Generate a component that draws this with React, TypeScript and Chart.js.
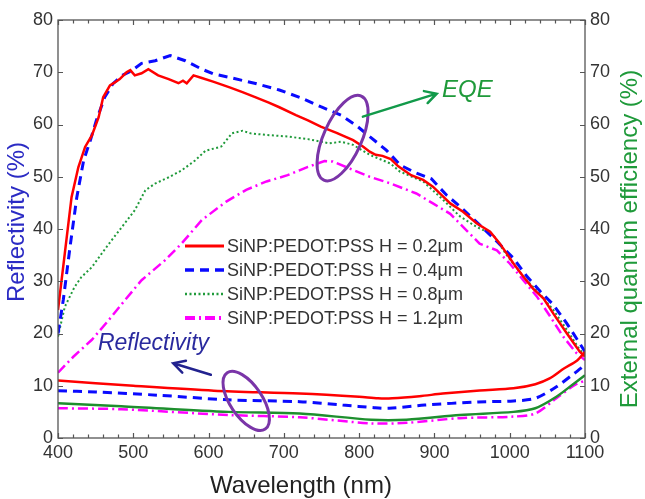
import React, { useEffect, useRef } from "react";
import { Chart, registerables } from "chart.js";
Chart.register(...registerables);

const FONT = "'Liberation Sans', Arial, Helvetica, sans-serif";

// ---- axes ----
const wavelengthTicks = [400, 500, 600, 700, 800, 900, 1000, 1100];
const percentTicks = [0, 10, 20, 30, 40, 50, 60, 70, 80];

const seriesLabels = [
  "SiNP:PEDOT:PSS H = 0.2\u03bcm",
  "SiNP:PEDOT:PSS H = 0.4\u03bcm",
  "SiNP:PEDOT:PSS H = 0.8\u03bcm",
  "SiNP:PEDOT:PSS H = 1.2\u03bcm",
];

// ---- EQE (right axis) ----
const eqeWl02 = [400, 409, 418, 427, 436, 445, 454, 460, 469, 476, 482, 491, 496, 502, 511, 520, 533, 547, 560, 566, 571, 580, 591, 606, 628, 645, 661, 680, 694, 716, 732, 749, 770, 792, 805, 814, 822, 831, 842, 852, 869, 885, 898, 921, 938, 956, 974, 987, 1005, 1018, 1031, 1045, 1058, 1076, 1093, 1100];
const eqe02 = [24.5, 35.3, 46.1, 51.8, 55.7, 57.9, 61.4, 65.2, 67.5, 68.1, 68.7, 70.0, 70.4, 69.4, 69.8, 70.6, 69.4, 68.7, 67.9, 68.4, 67.9, 69.4, 68.9, 68.2, 67.1, 66.2, 65.3, 64.2, 63.3, 61.8, 60.8, 59.6, 58.4, 57.0, 55.8, 54.8, 54.2, 54.0, 53.4, 52.0, 50.3, 49.4, 48.1, 44.9, 43.3, 41.1, 39.5, 37.2, 33.4, 30.9, 28.6, 26.7, 23.8, 20.0, 16.5, 15.6];

const eqeWl04 = [400, 407, 416, 425, 434, 443, 451, 462, 473, 485, 498, 511, 529, 549, 569, 591, 606, 628, 661, 694, 721, 749, 776, 798, 814, 836, 855, 876, 896, 916, 934, 960, 983, 1005, 1023, 1041, 1058, 1076, 1093, 1100];
const eqe04 = [20.0, 26.4, 36.6, 46.1, 53.1, 57.0, 60.8, 65.2, 67.8, 69.4, 70.3, 71.7, 72.2, 73.2, 72.2, 70.6, 69.7, 69.0, 67.9, 66.6, 65.2, 63.4, 61.8, 59.6, 57.7, 55.1, 52.2, 50.7, 49.6, 46.5, 44.3, 40.8, 37.6, 34.4, 30.9, 28.0, 25.5, 21.9, 18.1, 16.5];

const eqeWl08 = [400, 409, 422, 431, 445, 458, 471, 485, 502, 516, 529, 547, 564, 582, 596, 610, 617, 631, 645, 656, 677, 705, 732, 760, 776, 792, 814, 842, 854, 885, 907, 934, 956, 978, 996, 1018, 1041, 1058, 1076, 1093, 1100];
const eqe08 = [19.4, 25.1, 28.9, 30.8, 32.7, 35.3, 37.8, 40.4, 43.6, 47.4, 48.7, 49.9, 51.2, 53.1, 55.0, 55.5, 55.8, 58.3, 58.8, 58.3, 58.0, 57.7, 57.2, 56.4, 56.7, 56.1, 54.2, 52.5, 51.0, 49.1, 46.2, 42.4, 40.4, 38.9, 35.0, 30.9, 27.4, 24.5, 20.7, 16.9, 15.9];

const eqeWl12 = [400, 420, 445, 467, 489, 511, 542, 564, 591, 623, 650, 677, 705, 732, 754, 765, 787, 814, 842, 876, 898, 921, 938, 960, 983, 1000, 1018, 1036, 1054, 1071, 1089, 1100];
const eqe12 = [12.5, 15.5, 18.8, 22.5, 26.4, 30.2, 34.0, 37.2, 41.7, 45.2, 47.5, 49.1, 50.3, 51.9, 53.0, 52.9, 51.6, 50.0, 48.7, 46.8, 44.9, 42.9, 40.4, 37.2, 35.9, 33.4, 30.2, 27.1, 23.2, 19.4, 16.2, 14.9];

// ---- Reflectivity (left axis) ----
const refWl02 = [400, 500, 607, 721, 800, 825, 844, 880, 911, 960, 1005, 1034, 1053, 1072, 1090, 1100];
const ref02 = [11.0, 10.0, 9.06, 8.5, 7.9, 7.6, 7.6, 8.0, 8.5, 9.1, 9.5, 10.3, 11.4, 13.3, 14.9, 16.5];

const refWl04 = [400, 450, 532, 626, 721, 778, 820, 840, 887, 958, 1005, 1034, 1062, 1086, 1100];
const ref04 = [9.05, 8.8, 8.2, 7.3, 6.95, 6.3, 5.8, 5.7, 6.3, 6.9, 7.1, 7.6, 9.8, 12.4, 14.0];

const refWl08 = [400, 484, 626, 721, 816, 863, 934, 1005, 1034, 1062, 1086, 1100];
const ref08 = [6.64, 6.1, 5.0, 4.7, 3.5, 3.5, 4.4, 5.0, 5.7, 7.9, 10.5, 12.0];

const refWl12 = [400, 484, 626, 721, 816, 863, 934, 1005, 1034, 1062, 1086, 1100];
const ref12 = [5.7, 5.5, 4.4, 3.96, 2.8, 2.9, 3.8, 4.1, 4.7, 7.6, 10.1, 11.0];

// ---- annotations (data coordinates) ----
const eqeEllipse = { x: 778, y: 57.4 };
const refEllipse = { x: 650, y: 7.1 };
const eqeArrow = { x0: 805, y0: 61.5, x1: 903, y1: 65.9 };
const refArrow = { x0: 603, y0: 12.1, x1: 553, y1: 14.3 };
const eqeNote = { x: 910, y: 65.3, text: "EQE" };
const refNote = { x: 453, y: 16.8, text: "Reflectivity" };

const pts = (xs: number[], ys: number[]) => xs.map((x, i) => ({ x, y: ys[i] }));

const styles = [
  { color: "#ff0000", width: 2.5, dash: [] as number[] },
  { color: "#0a0aff", width: 3, dash: [9, 6] },
  { color: "#1f9a3a", width: 2, dash: [2, 2.5] },
  { color: "#ff00ff", width: 2.5, dash: [10, 4, 2, 4] },
];

function arrow(ctx: CanvasRenderingContext2D, x0: number, y0: number, x1: number, y1: number, color: string) {
  const ang = Math.atan2(y1 - y0, x1 - x0);
  const hl = 13;
  ctx.strokeStyle = color;
  ctx.lineWidth = 2.5;
  ctx.setLineDash([]);
  ctx.lineCap = "round";
  ctx.beginPath();
  ctx.moveTo(x0, y0);
  ctx.lineTo(x1, y1);
  ctx.moveTo(x1 - hl * Math.cos(ang - 0.5), y1 - hl * Math.sin(ang - 0.5));
  ctx.lineTo(x1, y1);
  ctx.lineTo(x1 - hl * Math.cos(ang + 0.5), y1 - hl * Math.sin(ang + 0.5));
  ctx.stroke();
}

const decor = {
  id: "decor",
  afterDatasetsDraw(chart: any) {
    const { ctx, chartArea: a, scales } = chart;
    const xs = scales.x, yl = scales.y, yr = scales.y1;
    ctx.save();
    // frame
    ctx.strokeStyle = "#555";
    ctx.lineWidth = 1.3;
    ctx.setLineDash([]);
    ctx.strokeRect(a.left, a.top, a.right - a.left, a.bottom - a.top);
    // x ticks (inward, top & bottom)
    ctx.beginPath();
    for (let v = 400; v <= 1100; v += 20) {
      const px = Math.round(xs.getPixelForValue(v)) + 0.5;
      const len = v % 100 === 0 ? 5 : 3.5;
      ctx.moveTo(px, a.bottom);
      ctx.lineTo(px, a.bottom - len);
      ctx.moveTo(px, a.top);
      ctx.lineTo(px, a.top + len);
    }
    percentTicks.forEach((v) => {
      const py = Math.round(yl.getPixelForValue(v)) + 0.5;
      ctx.moveTo(a.left, py);
      ctx.lineTo(a.left + 5, py);
      ctx.moveTo(a.right, py);
      ctx.lineTo(a.right - 5, py);
    });
    ctx.lineWidth = 1.2;
    ctx.stroke();

    // axis titles
    ctx.textAlign = "center";
    ctx.textBaseline = "middle";
    ctx.font = `24px ${FONT}`;
    ctx.fillStyle = "#2b2bc4";
    ctx.save();
    ctx.translate(17, 222);
    ctx.rotate(-Math.PI / 2);
    ctx.fillText("Reflectivity (%)", 0, 0);
    ctx.restore();
    ctx.fillStyle = "#1f9a3a";
    ctx.save();
    ctx.translate(630, 239);
    ctx.rotate(-Math.PI / 2);
    ctx.fillText("External quantum efficiency (%)", 0, 0);
    ctx.restore();
    ctx.fillStyle = "#222";
    ctx.fillText("Wavelength (nm)", 301, 486);

    // ellipses
    ctx.strokeStyle = "#7a35a8";
    ctx.lineWidth = 3;
    ctx.beginPath();
    ctx.ellipse(xs.getPixelForValue(eqeEllipse.x), yr.getPixelForValue(eqeEllipse.y), 19, 46, (24 * Math.PI) / 180, 0, Math.PI * 2);
    ctx.stroke();
    ctx.beginPath();
    ctx.ellipse(xs.getPixelForValue(refEllipse.x), yl.getPixelForValue(refEllipse.y), 16, 34, (-34 * Math.PI) / 180, 0, Math.PI * 2);
    ctx.stroke();

    // arrows
    arrow(ctx, xs.getPixelForValue(eqeArrow.x0), yr.getPixelForValue(eqeArrow.y0), xs.getPixelForValue(eqeArrow.x1), yr.getPixelForValue(eqeArrow.y1), "#129a4a");
    arrow(ctx, xs.getPixelForValue(refArrow.x0), yl.getPixelForValue(refArrow.y0), xs.getPixelForValue(refArrow.x1), yl.getPixelForValue(refArrow.y1), "#22228f");

    // notes
    ctx.textAlign = "left";
    ctx.textBaseline = "alphabetic";
    ctx.font = `italic 24px ${FONT}`;
    ctx.fillStyle = "#1f9a3a";
    ctx.fillText(eqeNote.text, xs.getPixelForValue(eqeNote.x), yr.getPixelForValue(eqeNote.y));
    ctx.font = `italic 23px ${FONT}`;
    ctx.fillStyle = "#2a2a9e";
    ctx.fillText(refNote.text, xs.getPixelForValue(refNote.x), yl.getPixelForValue(refNote.y));

    // legend
    ctx.font = `18px ${FONT}`;
    ctx.textBaseline = "middle";
    seriesLabels.forEach((label, i) => {
      const y = 246 + i * 24;
      const s = styles[i];
      ctx.strokeStyle = s.color;
      ctx.lineWidth = i === 3 ? 4 : s.width + 0.5;
      ctx.lineCap = "butt";
      ctx.setLineDash(s.dash);
      ctx.beginPath();
      ctx.moveTo(185, y);
      ctx.lineTo(224, y);
      ctx.stroke();
      ctx.setLineDash([]);
      ctx.fillStyle = "#333";
      ctx.fillText(label, 227, y + 1);
    });
    ctx.restore();
  },
};

const fixY = (w: number) => (scale: any) => {
  scale.width = w;
  scale.paddingTop = 0;
  scale.paddingBottom = 0;
  scale.paddingLeft = 0;
  scale.paddingRight = 0;
};

export default function App() {
  const ref = useRef<HTMLCanvasElement>(null);
  useEffect(() => {
    if (!ref.current) return;
    const eqeSeries = [pts(eqeWl02, eqe02), pts(eqeWl04, eqe04), pts(eqeWl08, eqe08), pts(eqeWl12, eqe12)];
    const refSeries = [pts(refWl02, ref02), pts(refWl04, ref04), pts(refWl08, ref08), pts(refWl12, ref12)];
    const refColors = ["#ff0000", "#0a0aff", "#1e8f2e", "#ff00ff"];
    const datasets: any[] = [];
    refSeries.forEach((d, i) => {
      datasets.push({
        label: seriesLabels[i] + " R",
        data: d,
        yAxisID: "y",
        borderColor: refColors[i],
        borderWidth: i === 2 ? 2.5 : styles[i].width,
        borderDash: i === 2 ? [] : styles[i].dash,
        pointRadius: 0,
        tension: 0.3,
        fill: false,
      });
    });
    eqeSeries.forEach((d, i) => {
      datasets.push({
        label: seriesLabels[i],
        data: d,
        yAxisID: "y1",
        borderColor: styles[i].color,
        borderWidth: styles[i].width,
        borderDash: styles[i].dash,
        pointRadius: 0,
        tension: 0,
        fill: false,
      });
    });
    const tickFont = { family: FONT, size: 18 };
    const plain = (v: any) => String(v);
    const chart = new Chart(ref.current, {
      type: "line",
      data: { datasets },
      plugins: [decor],
      options: {
        animation: false,
        responsive: true,
        maintainAspectRatio: false,
        layout: { padding: { top: 20, left: 0, right: 0, bottom: 0 } },
        plugins: { legend: { display: false }, tooltip: { enabled: false } },
        scales: {
          x: {
            type: "linear",
            min: 400,
            max: 1100,
            position: "bottom",
            grid: { display: false, drawTicks: false },
            border: { display: false },
            afterBuildTicks: (s: any) => { s.ticks = wavelengthTicks.map((v) => ({ value: v })); },
            ticks: { font: tickFont, color: "#333", padding: 4, maxRotation: 0, autoSkip: false, callback: plain },
            afterFit: (s: any) => { s.height = 61; s.paddingLeft = 0; s.paddingRight = 0; s.paddingTop = 0; s.paddingBottom = 0; },
          },
          y: {
            type: "linear",
            position: "left",
            min: 0,
            max: 80,
            grid: { display: false, drawTicks: false },
            border: { display: false },
            afterBuildTicks: (s: any) => { s.ticks = percentTicks.map((v) => ({ value: v })); },
            ticks: { font: tickFont, color: "#333", padding: 5, callback: plain },
            afterFit: fixY(58),
          },
          y1: {
            type: "linear",
            position: "right",
            min: 0,
            max: 80,
            grid: { display: false, drawTicks: false },
            border: { display: false },
            afterBuildTicks: (s: any) => { s.ticks = percentTicks.map((v) => ({ value: v })); },
            ticks: { font: tickFont, color: "#333", padding: 5, callback: plain },
            afterFit: fixY(60),
          },
        },
      },
    });
    return () => chart.destroy();
  }, []);
  return (
    <div style={{ position: "fixed", left: 0, top: 0, width: 645, height: 499, background: "#fff" }}>
      <canvas ref={ref} />
    </div>
  );
}
